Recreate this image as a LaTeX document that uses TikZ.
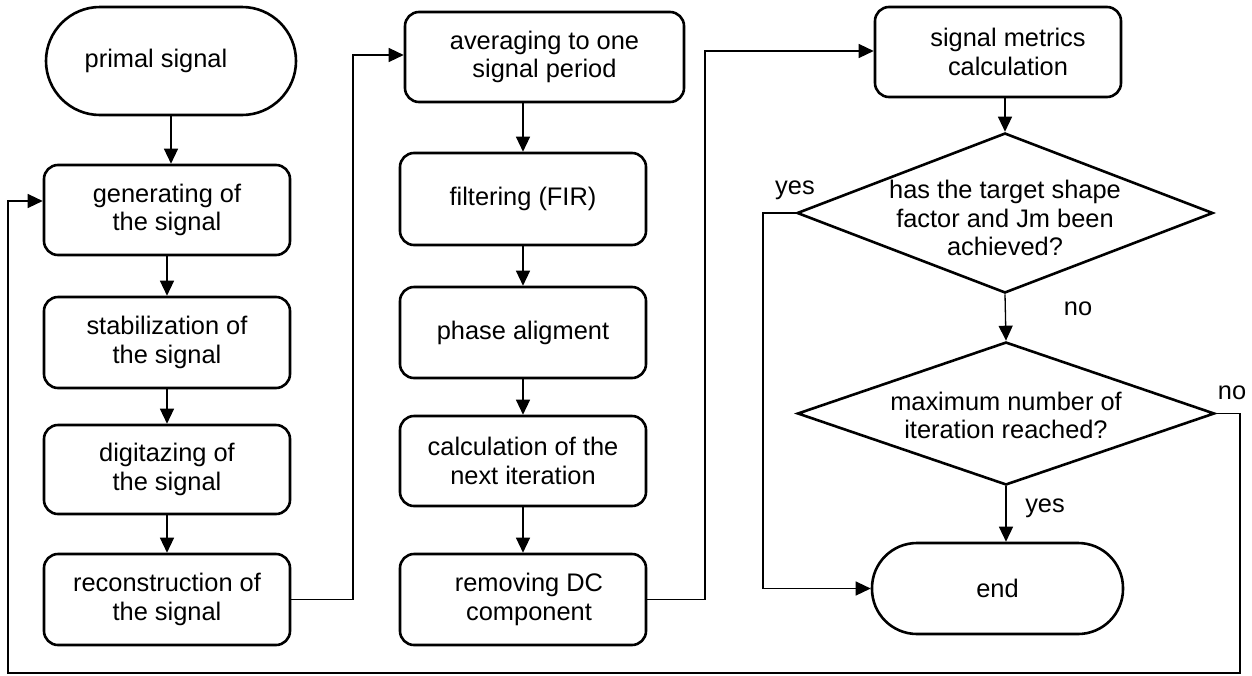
\documentclass[tikz,border=0pt]{standalone}
\usepackage{fontspec}
\setmainfont{Liberation Sans}
\usetikzlibrary{arrows.meta,shapes.geometric}
\tikzset{
  box/.style={draw, line width=2.6pt, rounded corners=14pt, align=center, inner sep=0pt,
    font=\fontsize{25.4}{28.5}\selectfont},
  term/.style={draw, line width=2.6pt, align=center, inner sep=0pt,
    font=\fontsize{25.4}{28.5}\selectfont},
  dia/.style 2 args={draw, diamond, line width=2.6pt, inner sep=0pt, shape aspect=2.6,
    label={[align=center, yshift=#2, font=\fontsize{25.4}{28.5}\selectfont]center:#1}},
  arr/.style={line width=1.3pt, -{Triangle[length=15pt,width=14pt]}},
  lab/.style={font=\fontsize{25.4}{28.5}\selectfont}
}
\begin{document}
\begin{tikzpicture}[x=1pt,y=-1pt]
\useasboundingbox (0,0) rectangle (1252,675);
% column 1
\node[term, rounded corners=54pt, minimum width=250pt, minimum height=108pt] (pri) at (171,61) {primal signal\hspace{30pt}};
\node[box, minimum width=246pt, minimum height=90pt] (gen) at (167,210) {generating of\\the signal};
\node[box, minimum width=246pt, minimum height=91pt] (sta) at (167,342.5) {stabilization of\\the signal};
\node[box, minimum width=246pt, minimum height=89pt] (dig) at (167,469.5) {digitazing of\\the signal};
\node[box, minimum width=246pt, minimum height=91pt] (rec) at (167,599.5) {reconstruction of\\the signal};
% column 2
\node[box, minimum width=279pt, minimum height=90pt] (avg) at (544.5,57) {averaging to one\\signal period};
\node[box, minimum width=246pt, minimum height=92pt] (fil) at (523,199) {filtering (FIR)};
\node[box, minimum width=246pt, minimum height=91pt] (pha) at (523,332.5) {phase aligment};
\node[box, minimum width=246pt, minimum height=90pt] (cal) at (523,461) {calculation of the\\next iteration};
\node[box, minimum width=246pt, minimum height=91pt] (rem) at (523,599.5) {\hspace{12pt}removing DC\\\hspace{12pt}component};
% column 3
\node[box, minimum width=246pt, minimum height=90pt] (met) at (998,52) {\hspace{20pt}signal metrics\\\hspace{20pt}calculation};
\node[dia={has the target shape\\factor and Jm been\\achieved?}{-5pt}, minimum width=416pt, minimum height=160pt] (d1) at (1005,213) {};
\node[dia={maximum number of\\iteration reached?}{-2pt}, minimum width=417pt, minimum height=143pt] (d2) at (1006,413.5) {};
\node[term, rounded corners=45pt, minimum width=251pt, minimum height=91pt] (end) at (997.5,588.5) {end};
% helper coordinates
\coordinate (c1) at (353,55);
\coordinate (c2) at (705,51);
\coordinate (c3) at (763,213);
\coordinate (fb1) at (1240,673);
\coordinate (fb2) at (8,201);
% connectors
\draw[arr] (pri.south) -- (pri.south |- gen.north);
\draw[arr] (gen.south) -- (sta.north);
\draw[arr] (sta.south) -- (dig.north);
\draw[arr] (dig.south) -- (rec.north);
\draw[arr] (rec.east) -| (c1) -- (c1 -| avg.west);
\draw[arr] (avg.south -| fil.north) -- (fil.north);
\draw[arr] (fil.south) -- (pha.north);
\draw[arr] (pha.south) -- (cal.north);
\draw[arr] (cal.south) -- (rem.north);
\draw[arr] (rem.east) -| (c2) -- (c2 -| met.west);
\draw[arr] (met.south -| d1.north) -- (d1.north);
\draw[arr] (d1.south) -- (d2.north);
\draw[arr] (d2.south) -- (d2.south |- end.north);
\draw[arr] (d1.west) -- (c3) |- (end.west);
\draw[arr] (d2.east) -| (fb1) -| (fb2) -- (fb2 -| gen.west);
% labels
\node[lab] (l1) at (795,190) {yes};
\node[lab] (l2) at (1078,309) {no};
\node[lab] (l3) at (1045,508) {yes};
\node[lab] (l4) at (1232,393) {no};
\end{tikzpicture}
\end{document}
